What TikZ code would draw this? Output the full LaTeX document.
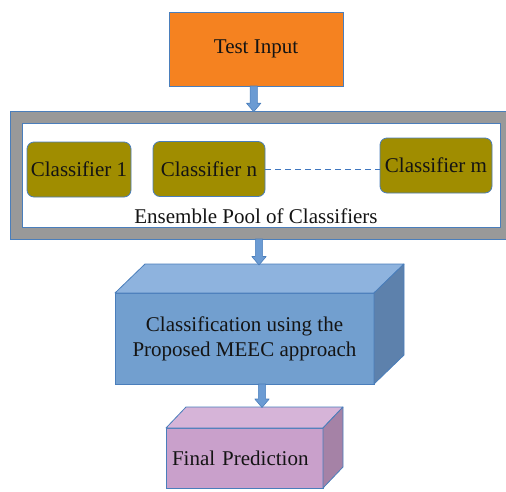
\documentclass[tikz,border=0pt]{standalone}
\usepackage{fontspec}
\setmainfont{Liberation Serif}
\usetikzlibrary{calc}

\definecolor{edgeblue}{HTML}{4A7EBB}
\definecolor{dashblue}{HTML}{3F76BF}
\definecolor{inputorange}{HTML}{F58220}
\definecolor{olivebox}{HTML}{A08D00}
\definecolor{framegray}{HTML}{999999}
\definecolor{meecfront}{HTML}{729FCF}
\definecolor{meectop}{HTML}{8EB3DE}
\definecolor{meecside}{HTML}{5D81AC}
\definecolor{predfront}{HTML}{C9A0CB}
\definecolor{predtop}{HTML}{D6B4D8}
\definecolor{predside}{HTML}{A582A6}
\definecolor{arrowfill}{HTML}{6B9BD3}
\definecolor{inktext}{HTML}{141414}

\tikzset{
  box/.style={draw=edgeblue, line width=0.8pt, inner sep=0pt, outer sep=0pt,
    text=inktext, font=\fontsize{21}{25}\selectfont, align=center},
  clsbox/.style={box, fill=olivebox, rounded corners=7pt,
    minimum height=55pt},
  facebox/.style={draw=edgeblue, line width=0.8pt, line join=round},
  arrowline/.style={draw=edgeblue, fill=arrowfill, line width=0.6pt, line join=round},
  plaintext/.style={text=inktext, font=\fontsize{21}{25}\selectfont, inner sep=0pt}
}

% block arrow: x taken from the first point, tip y from the second
\newcommand\flowarrow[2]{%
  \path[arrowline] let \p1=(#1), \p2=(#2) in
    (\x1-3.6pt,\y1) -- (\x1-3.6pt,\y2+8.5pt) -- (\x1-7.2pt,\y2+8.5pt) --
    (\x1,\y2) -- (\x1+7.2pt,\y2+8.5pt) -- (\x1+3.6pt,\y2+8.5pt) --
    (\x1+3.6pt,\y1) -- cycle;}

\begin{document}
\begin{tikzpicture}[x=1pt, y=-1pt]
  \useasboundingbox (0,0) rectangle (506,491);

  % input
  \node[box, fill=inputorange, minimum width=174pt, minimum height=74pt]
    (test) at (256,49) {Test Input};

  % ensemble pool frame
  \node[box, fill=framegray, minimum width=498pt, minimum height=128pt]
    (pool) at (259,175) {};
  \node[box, fill=white, minimum width=478pt, minimum height=104pt]
    (poolin) at (261,175) {};

  \node[clsbox, minimum width=104pt] (c1) at (79,169.5) {Classifier 1};
  \node[clsbox, minimum width=112pt] (cn) at (209,169) {Classifier n};
  \node[clsbox, minimum width=112pt] (cm) at (436,165.5) {Classifier m};
  \draw[dashblue, line width=1.1pt, dash pattern=on 6pt off 4pt]
    ([yshift=-0.5pt]cn.east) -- ([yshift=-0.5pt]cn.east -| cm.west);

  \node[plaintext] (poolname) at (256,216) {Ensemble Pool of Classifiers};

  % MEEC block (3-D box)
  \node[box, fill=meecfront, minimum width=259pt, minimum height=91pt]
    (meec) at (244.5,338.5) {Classification using the\\Proposed MEEC approach};
  \path[facebox, fill=meectop] (meec.north west) -- ++(30,-29) -- ($(meec.north east)+(30,-29)$)
    -- (meec.north east) -- cycle;
  \path[facebox, fill=meecside] (meec.north east) -- ++(30,-29) -- ($(meec.south east)+(30,-29)$)
    -- (meec.south east) -- cycle;

  % prediction block (3-D box)
  \node[box, fill=predfront, minimum width=157pt, minimum height=60pt,
    text width=145pt, align=left, inner xsep=6pt]
    (final) at (244.5,458) {Final Prediction};
  \path[facebox, fill=predtop] (final.north west) -- ++(20,-21) -- ($(final.north east)+(20,-21)$)
    -- (final.north east) -- cycle;
  \path[facebox, fill=predside] (final.north east) -- ++(20,-21) -- ($(final.south east)+(20,-21)$)
    -- (final.south east) -- cycle;

  % flow arrows
  \flowarrow{[xshift=-2.3pt]test.south}{[yshift=-0.7pt]pool.north}
  \flowarrow{pool.south}{[yshift=28pt]meec.north}
  \flowarrow{[xshift=17.5pt]meec.south}{[yshift=20.5pt]final.north}
\end{tikzpicture}
\end{document}
